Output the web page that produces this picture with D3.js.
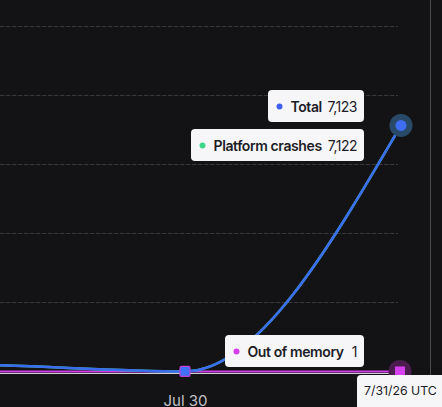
<!DOCTYPE html>
<html><head><meta charset="utf-8">
<script src="https://cdn.jsdelivr.net/npm/d3@7"></script>
<style>
html,body{margin:0;padding:0;background:#131316;overflow:hidden;}
svg{display:block;font-family:Inter,"Noto Sans",sans-serif;}
</style></head>
<body>
<svg id="c" width="442" height="407"></svg>
<script>
const dates = ["2026-07-28","2026-07-29","2026-07-30","2026-07-31"];
const totalValues = [240, 200, 2, 7123];
const platformCrashValues = [239, 199, 1, 7122];
const outOfMemoryValues = [1, 1, 1, 1];
const yTicks = [0, 2000, 4000, 6000, 8000, 10000];
const xTickLabels = ["Jul 30", "Jul 31"];
const tooltipNames = ["Total", "Platform crashes", "Out of memory"];
const tooltipValues = ["7,123", "7,122", "1"];
const hoverLabel = "7/31/26 UTC";

const svg = d3.select("#c");
const parse = d3.utcParse("%Y-%m-%d");
const xDates = dates.map(parse);
const x = d3.scaleUtc().domain([xDates[2], xDates[3]]).range([185, 401]);
const y = d3.scaleLinear().domain([0, 10000]).range([371.5, 26]);

// gridlines
svg.append("g").selectAll("line").data(yTicks.slice(1)).join("line")
  .attr("x1", 0).attr("x2", 398)
  .attr("y1", d => Math.round(y(d)) + 0.5).attr("y2", d => Math.round(y(d)) + 0.5)
  .attr("stroke", "#38383c").attr("stroke-width", 1).attr("stroke-dasharray", "4.5,1.5");

// right panel border
svg.append("line").attr("x1", 430.5).attr("x2", 430.5).attr("y1", 0).attr("y2", 407)
  .attr("stroke", "#4a4a4e").attr("stroke-width", 1);

// baseline
svg.append("line").attr("x1", 0).attr("x2", 401).attr("y1", 373.5).attr("y2", 373.5)
  .attr("stroke", "#cfcfd4").attr("stroke-width", 1);

// x axis labels
const xAxis = d3.axisBottom(x).tickValues([xDates[2]]).tickFormat((d, i) => xTickLabels[i]).tickSize(0).tickPadding(0);
const gx = svg.append("g").attr("transform", "translate(0,406)").call(xAxis);
gx.select(".domain").remove();
gx.selectAll("text").attr("fill", "#c2c2c8").attr("font-size", 15).attr("font-family", "Inter,sans-serif").attr("dy", 0).attr("y", 0);

const line = d3.line().x((d, i) => x(xDates[i])).y(d => y(d)).curve(d3.curveMonotoneX);

svg.append("path").datum(outOfMemoryValues).attr("d", line).attr("fill", "none")
  .attr("stroke", "#d23fe8").attr("stroke-width", 2);
svg.append("path").datum(platformCrashValues).attr("d", line).attr("fill", "none")
  .attr("stroke", "#3fd68a").attr("stroke-width", 2.5);
svg.append("path").datum(totalValues).attr("d", line).attr("fill", "none")
  .attr("stroke", "#3b6cf0").attr("stroke-width", 2.5);

// Jul 30 marker
svg.append("rect").attr("x", x(xDates[2]) - 5).attr("y", y(totalValues[2]) - 5)
  .attr("width", 10).attr("height", 10).attr("rx", 1.5)
  .attr("fill", "#4070f5").attr("stroke", "#c23fd8").attr("stroke-width", 1.2);

// end markers
const ex = x(xDates[3]);
svg.append("circle").attr("cx", ex).attr("cy", y(totalValues[3])).attr("r", 11.5).attr("fill", "#284a68");
svg.append("circle").attr("cx", ex).attr("cy", y(totalValues[3])).attr("r", 5.5).attr("fill", "#3f6ef5");
svg.append("circle").attr("cx", ex - 1).attr("cy", y(outOfMemoryValues[3])).attr("r", 11.5).attr("fill", "#4a1d4e");
svg.append("rect").attr("x", ex - 6).attr("y", y(outOfMemoryValues[3]) - 5).attr("width", 10).attr("height", 10)
  .attr("fill", "#d640ee");

// tooltips
const tipColors = ["#3f5ff5", "#3fd68a", "#d63fee"];
const tipBoxes = [
  {x0: 268, top: 90},
  {x0: 191, top: 129},
  {x0: 225, top: 335}
];
tipBoxes.forEach((b, i) => {
  const g = svg.append("g");
  g.append("rect").attr("x", b.x0).attr("y", b.top).attr("width", 364 - b.x0).attr("height", 32)
    .attr("rx", 4).attr("fill", "#f6f6f8");
  g.append("circle").attr("cx", b.x0 + 11.5).attr("cy", b.top + 16.5).attr("r", 3).attr("fill", tipColors[i]);
  g.append("text").attr("x", b.x0 + 22.5).attr("y", b.top + 21.5).attr("font-size", 14).attr("font-weight", 600)
    .attr("letter-spacing", "-0.4").attr("fill", "#1c1c26").text(tooltipNames[i]);
  g.append("text").attr("x", 357).attr("y", b.top + 21.5).attr("text-anchor", "end").attr("font-size", 14)
    .attr("letter-spacing", "-0.5").attr("font-weight", 400).attr("fill", "#1c1c26").text(tooltipValues[i]);
});

// hover date label
svg.append("rect").attr("x", 357).attr("y", 375).attr("width", 95).attr("height", 36).attr("rx", 4).attr("fill", "#f6f6f8");
svg.append("text").attr("x", 364).attr("y", 394.5).attr("font-size", 12.3).attr("fill", "#1c1c26").text(hoverLabel);
</script>
</body></html>
